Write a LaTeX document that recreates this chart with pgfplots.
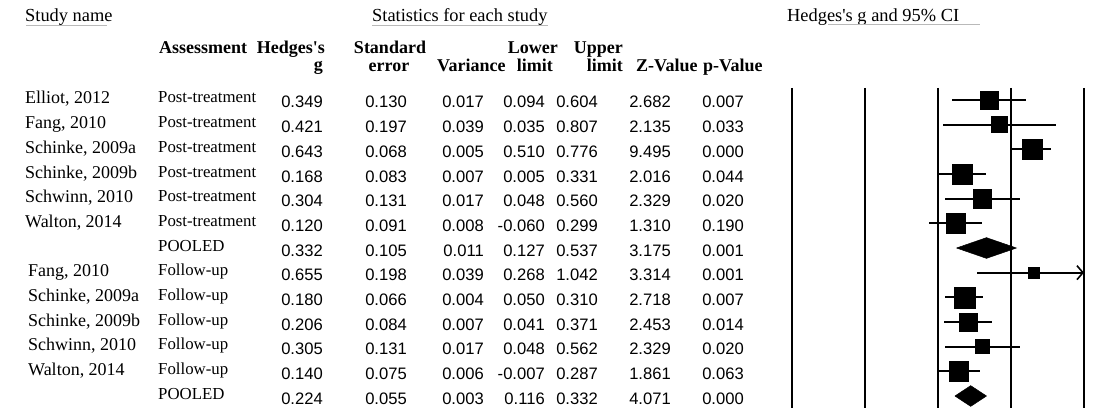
\documentclass[border=0pt]{standalone}
\usepackage{fontspec}
\setmainfont{Liberation Serif}
\newfontfamily\numfont{Liberation Sans}
\usepackage{pgfplots}
\pgfplotsset{compat=1.18}
\usepackage{pgfplotstable}
\usetikzlibrary{arrows.meta}

% horizontal position: g = 0 sits at column 938, one unit of g spans 146 columns
\newcommand\gx[1]{((#1)-938)/146}
% vertical position: row 0 sits at line 100, rows are 24.667 apart
\newcommand\ry[1]{((#1)-100)/24.667}

\pgfplotstableread[col sep=semicolon]{
row;study;nx;assess;g;se;var;lo;hi;z;p;box
0;Elliot, 2012;25;Post-treatment;0.349;0.130;0.017;0.094;0.604;2.682;0.007;18.5
1;Fang, 2010;25;Post-treatment;0.421;0.197;0.039;0.035;0.807;2.135;0.033;16
2;Schinke, 2009a;25;Post-treatment;0.643;0.068;0.005;0.510;0.776;9.495;0.000;20
3;Schinke, 2009b;25;Post-treatment;0.168;0.083;0.007;0.005;0.331;2.016;0.044;20
4;Schwinn, 2010;25;Post-treatment;0.304;0.131;0.017;0.048;0.560;2.329;0.020;18.3
5;Walton, 2014;25;Post-treatment;0.120;0.091;0.008;-0.060;0.299;1.310;0.190;19.5
6;{};25;POOLED;0.332;0.105;0.011;0.127;0.537;3.175;0.001;0
7;Fang, 2010;28;Follow-up;0.655;0.198;0.039;0.268;1.042;3.314;0.001;10.5
8;Schinke, 2009a;28;Follow-up;0.180;0.066;0.004;0.050;0.310;2.718;0.007;21
9;Schinke, 2009b;28;Follow-up;0.206;0.084;0.007;0.041;0.371;2.453;0.014;18.5
10;Schwinn, 2010;28;Follow-up;0.305;0.131;0.017;0.048;0.562;2.329;0.020;14
11;Walton, 2014;28;Follow-up;0.140;0.075;0.006;-0.007;0.287;1.861;0.063;19.3
12;{};28;POOLED;0.224;0.055;0.003;0.116;0.332;4.071;0.000;0
}\studies

\pgfplotsset{
  textcol/.style={draw=none, no markers, nodes near coords,
    point meta=explicit symbolic,
    nodes near coords style={inner sep=0pt, black, #1}},
  numcol/.style={textcol={anchor=base east, yshift=-8pt,
    font=\numfont\fontsize{16.6pt}{18pt}\selectfont}},
}
\tikzset{
  hdr/.style={inner sep=0pt, font=\fontsize{18.4pt}{20pt}\selectfont},
  bhdr/.style={inner sep=0pt, font=\bfseries\fontsize{18pt}{20pt}\selectfont},
}

\begin{document}
\begin{tikzpicture}
\begin{axis}[
  width=1114pt, height=411pt, scale only axis,
  xmin=-6.42466, xmax=1.20548, ymin=-4.0540, ymax=12.6081,
  y dir=reverse, axis lines=none, clip=false,
]
% reference lines at g = -1, -0.5, 0, 0.5, 1
\pgfplotsinvokeforeach{-1,-0.5,0,0.5,1}{
  \addplot[black, line width=2.3pt] coordinates {(#1,-0.49) (#1,12.49)};
}

% study effects with 95% CI
\addplot[black, scatter, only marks, mark=square*,
  scatter/use mapped color={draw=black, fill=black},
  visualization depends on={\thisrow{box}/2 \as \halfbox},
  scatter/@pre marker code/.append style={/tikz/mark size=\halfbox},
  restrict expr to domain={\thisrow{box}}{1:100},
  error bars/.cd, x dir=both, x explicit, error mark=none,
  error bar style={line width=2.3pt, black}]
  table[x=g, y=row,
    x error plus expr={min(\thisrow{hi},1)-\thisrow{g}},
    x error minus expr={\thisrow{g}-\thisrow{lo}}]{\studies};

% CI running past the plotted range
\addplot[black, line width=1.6pt, -{Straight Barb[length=6pt,width=14pt]}]
  coordinates {(0.9,7) (1,7)};

% pooled estimates
\addplot[black, fill=black, line width=0.5pt]
  coordinates {(0.127,6) (0.332,5.58) (0.537,6) (0.332,6.42) (0.127,6)};
\addplot[black, fill=black, line width=0.5pt]
  coordinates {(0.116,12) (0.224,11.58) (0.332,12) (0.224,12.42) (0.116,12)};

% table columns
\addplot[textcol={anchor=base west, yshift=-4pt,
    font=\fontsize{18pt}{20pt}\selectfont}]
  table[x expr={\gx{\thisrow{nx}}}, y=row, meta=study]{\studies};
\addplot[textcol={anchor=base west, yshift=-3pt,
    font=\fontsize{16.8pt}{18pt}\selectfont}]
  table[x expr={\gx{158}}, y=row, meta=assess]{\studies};
\addplot[numcol] table[x expr={\gx{323}}, y=row, meta=g]{\studies};
\addplot[numcol] table[x expr={\gx{407}}, y=row, meta=se]{\studies};
\addplot[numcol] table[x expr={\gx{484}}, y=row, meta=var]{\studies};
\addplot[numcol] table[x expr={\gx{545}}, y=row, meta=lo]{\studies};
\addplot[numcol] table[x expr={\gx{598}}, y=row, meta=hi]{\studies};
\addplot[numcol] table[x expr={\gx{671}}, y=row, meta=z]{\studies};
\addplot[numcol] table[x expr={\gx{744}}, y=row, meta=p]{\studies};

% headings
\node[hdr, anchor=base west] at (axis cs:{\gx{25}},{\ry{22}}) {Study name};
\node[hdr, anchor=base west] at (axis cs:{\gx{372}},{\ry{22}}) {Statistics for each study};
\node[hdr, anchor=base west] at (axis cs:{\gx{787}},{\ry{22}}) {Hedges\textquotesingle s g and 95\% CI};
\draw[gray!55, line width=0.8pt] (axis cs:{\gx{26}},{\ry{25}}) -- (axis cs:{\gx{107}},{\ry{25}});
\draw[gray!55, line width=0.8pt] (axis cs:{\gx{372}},{\ry{25}}) -- (axis cs:{\gx{548}},{\ry{25}});
\draw[gray!55, line width=0.8pt] (axis cs:{\gx{828}},{\ry{24}}) -- (axis cs:{\gx{980}},{\ry{24}});

\node[bhdr, anchor=base west] at (axis cs:{\gx{159}},{\ry{54}}) {Assessment};
\node[bhdr, anchor=base east] at (axis cs:{\gx{325}},{\ry{54}}) {Hedges\textquotesingle s};
\node[bhdr, anchor=base east] at (axis cs:{\gx{323}},{\ry{71}}) {g};
\node[bhdr, anchor=base] at (axis cs:{\gx{390}},{\ry{54}}) {Standard};
\node[bhdr, anchor=base] at (axis cs:{\gx{389}},{\ry{72}}) {error};
\node[bhdr, anchor=base west] at (axis cs:{\gx{437}},{\ry{72}}) {Variance};
\node[bhdr, anchor=base east] at (axis cs:{\gx{558}},{\ry{54}}) {Lower};
\node[bhdr, anchor=base east] at (axis cs:{\gx{553}},{\ry{72}}) {limit};
\node[bhdr, anchor=base east] at (axis cs:{\gx{623}},{\ry{54}}) {Upper};
\node[bhdr, anchor=base east] at (axis cs:{\gx{623}},{\ry{72}}) {limit};
\node[bhdr, anchor=base west] at (axis cs:{\gx{636}},{\ry{72}}) {Z-Value};
\node[bhdr, anchor=base west] at (axis cs:{\gx{703}},{\ry{72}}) {p-Value};
\end{axis}
\pgfresetboundingbox
\path (current axis.south west) rectangle (current axis.north east);
\end{tikzpicture}
\end{document}
